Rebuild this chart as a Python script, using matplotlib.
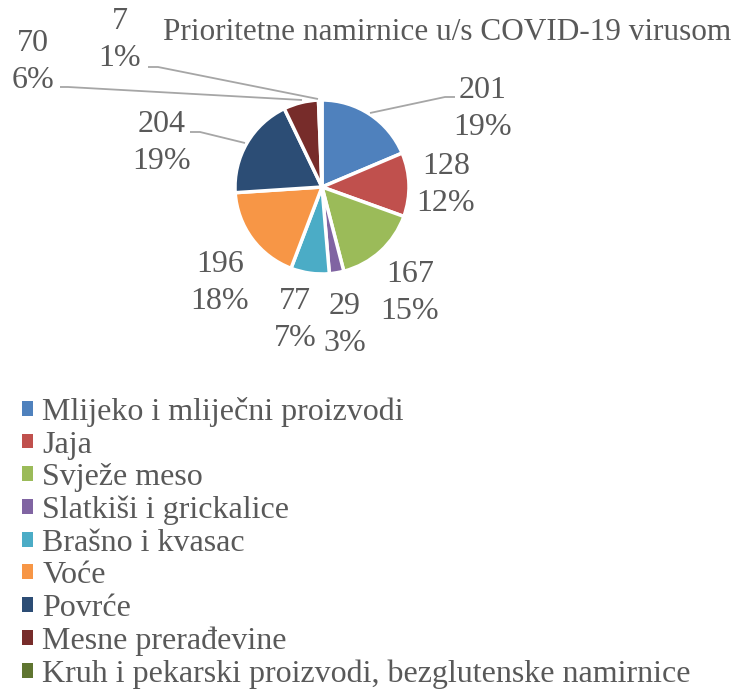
import matplotlib
matplotlib.use("Agg")
import matplotlib.pyplot as plt
from matplotlib.patches import Patch

categories = ["Mlijeko i mliječni proizvodi", "Jaja", "Svježe meso",
              "Slatkiši i grickalice", "Brašno i kvasac", "Voće", "Povrće",
              "Mesne prerađevine", "Kruh i pekarski proizvodi, bezglutenske namirnice"]
values = [201, 128, 167, 29, 77, 196, 204, 70, 7]
colors = ["#4F81BD", "#C0504D", "#9BBB59", "#8064A2", "#4BACC6",
          "#F79646", "#2C4D75", "#772C2A", "#5F7530"]
title = "Prioritetne namirnice u/s COVID-19 virusom"

W, H = 742, 693
TXT = "#595959"
FONT = "Liberation Serif"

fig = plt.figure(figsize=(W / 100, H / 100), dpi=100)
ax = fig.add_axes([0, 0, 1, 1])

def Y(y):
    return H - y

cx, cy, r = 322, 187, 87
wedges, _ = ax.pie(values, colors=colors, startangle=90, counterclock=False,
                   center=(cx, Y(cy)), radius=r,
                   wedgeprops=dict(edgecolor="white", linewidth=2.5))
ax.set_xlim(0, W)
ax.set_ylim(0, H)
ax.set_aspect("equal")
ax.axis("off")

total = sum(values)
label_pos = [(483, 109), (446, 185), (410, 293), (345, 325), (295, 320),
             (220, 283), (162, 143), (33, 62), (120, 40)]
for v, (lx, ly) in zip(values, label_pos):
    pct = round(100 * v / total)
    ax.text(lx, Y(ly), f"{v}\n{pct}%", ha="center", va="center",
            fontsize=23, family=FONT, color=TXT, linespacing=1.33)

leaders = [
    [(370, 113), (445, 97), (455, 97)],
    [(245, 143), (200, 132), (190, 132)],
    [(302, 100), (68, 87), (60, 87)],
    [(318, 99), (158, 67), (148, 67)],
]
for pts in leaders:
    xs = [p[0] for p in pts]
    ys = [Y(p[1]) for p in pts]
    ax.plot(xs, ys, color="#A6A6A6", lw=1.3, solid_capstyle="butt")

ax.text(447, Y(32), title, ha="center", va="center", fontsize=22.5,
        family=FONT, color=TXT)

handles = [Patch(facecolor=c, edgecolor="none") for c in colors]
leg = ax.legend(handles, categories, loc="upper left",
                bbox_to_anchor=(22 / W, 1 - 397 / H), bbox_transform=ax.transAxes,
                frameon=False, prop=dict(family=FONT, size=23),
                labelcolor=TXT, handlelength=0.34, handleheight=0.34,
                handletextpad=0.3, labelspacing=0.11, borderpad=0,
                borderaxespad=0)

fig.savefig("out.png", dpi=100)
